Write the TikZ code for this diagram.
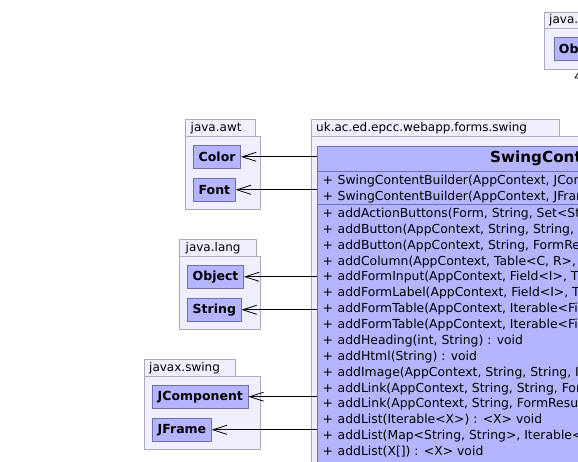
\documentclass[tikz,border=0pt]{standalone}
\usepackage{fontspec}
\setmainfont{DejaVu Sans}
\usetikzlibrary{arrows.meta, positioning, calc}

\definecolor{pkgfill}{RGB}{239,239,255}
\definecolor{pkgline}{RGB}{170,170,186}
\definecolor{clsfill}{RGB}{180,180,255}
\definecolor{clsline}{RGB}{112,112,180}

\begin{document}
\begin{tikzpicture}[x=1pt, y=-1pt,
    pkgbody/.style={draw=pkgline, fill=pkgfill, line width=0.8pt},
    pkgname/.style={anchor=west, inner sep=0pt, font=\fontsize{12}{14}\selectfont},
    smallcls/.style={draw=clsline, fill=clsfill, line width=0.8pt, anchor=west,
        minimum height=23pt, inner xsep=5pt, inner ysep=0pt,
        font=\fontsize{12.5}{14}\selectfont\bfseries},
    member/.style={anchor=base west, inner sep=0pt, font=\fontsize{12.4}{14}\selectfont},
    uses/.style={-{Straight Barb[length=14pt,width=9pt]}, line width=0.8pt}
]
\useasboundingbox (0,0) rectangle (578,462);
\clip (0,0) rectangle (578,462);

% packages
\draw[pkgbody] (544,12) rectangle (640,28);
\draw[pkgbody] (544,28) rectangle (640,69);
\node[pkgname] (pkgutil) at (549,20) {java.util};

\draw[pkgbody] (185.5,119.5) rectangle (255,136);
\draw[pkgbody] (185.5,136) rectangle (260,209);
\node[pkgname] (pkgawt) at (190.5,128) {java.awt};

\draw[pkgbody] (179.5,239.5) rectangle (256,256.5);
\draw[pkgbody] (179.5,256.5) rectangle (260,329);
\node[pkgname] (pkglang) at (185.5,248) {java.lang};

\draw[pkgbody] (144,359.5) rectangle (235.5,376.5);
\draw[pkgbody] (144,376.5) rectangle (260,449);
\node[pkgname] (pkgswing) at (149,368) {javax.swing};

\draw[pkgbody] (311.5,119.5) rectangle (559.5,136);
\draw[pkgbody] (311.5,136) rectangle (700,600);
\node[pkgname] (pkgforms) at (316,128) {uk.ac.ed.epcc.webapp.forms.swing};

% classes
\node[smallcls] (observable) at (553.5,48.5) {Observable};
\node[smallcls] (color) at (193.3,156.8) {Color};
\node[smallcls] (font) at (193.3,189.8) {Font};
\node[smallcls] (object) at (187.3,276.8) {Object};
\node[smallcls] (string) at (187.3,309.8) {String};
\node[smallcls] (jcomponent) at (152.3,396.7) {JComponent};
\node[smallcls] (jframe) at (152.3,429.8) {JFrame};

\node[draw=clsline, fill=clsfill, line width=0.8pt, anchor=north west,
    minimum width=420pt, minimum height=400pt] (builder) at (317,146) {};
\node[anchor=west, inner sep=0pt, font=\fontsize{15.2}{18}\selectfont\bfseries]
    (buildername) at (490,158.5) {SwingContentBuilder};
\draw[clsline, line width=0.8pt] (317,171) -- (737,171);
\draw[clsline, line width=0.8pt] (317,204.3) -- (737,204.3);

% members
\foreach \txt [count=\i from 0] in {
    {SwingContentBuilder(AppContext, JComponent)},
    {SwingContentBuilder(AppContext, JFrame)}} {
  \node[member] (ctor\i) at (337.5,185+16*\i) {\txt};
  \node[member] (ctorvis\i) at (322.5,185+16*\i) {+};
}
\foreach \txt [count=\i from 0] in {
    {addActionButtons(Form, String, Set<String>)},
    {addButton(AppContext, String, String, Icon)},
    {addButton(AppContext, String, FormResult)},
    {addColumn(AppContext, Table<C, R>, C)},
    {addFormInput(AppContext, Field<I>, T)},
    {addFormLabel(AppContext, Field<I>, T)},
    {addFormTable(AppContext, Iterable<Field>)},
    {addFormTable(AppContext, Iterable<Field>)},
    {addHeading(int, String) : void},
    {addHtml(String) : void},
    {addImage(AppContext, String, String, Integer)},
    {addLink(AppContext, String, String, FormResult)},
    {addLink(AppContext, String, FormResult)},
    {addList(Iterable<X>) : <X> void},
    {addList(Map<String, String>, Iterable<X>)},
    {addList(X[]) : <X> void}} {
  \node[member] (meth\i) at (337.5,217.5+15.87*\i) {\txt};
  \node[member] (methvis\i) at (322.5,217.5+15.87*\i) {+};
}

% dependencies
\foreach \target in {color, font, object, string, jcomponent, jframe}
  \draw[uses] (\target.east -| builder.west) -- (\target.east);

% generalisation head
\draw[line width=0.8pt] (575,78) -- (579.5,71) -- (584,78) -- cycle;
\end{tikzpicture}
\end{document}
